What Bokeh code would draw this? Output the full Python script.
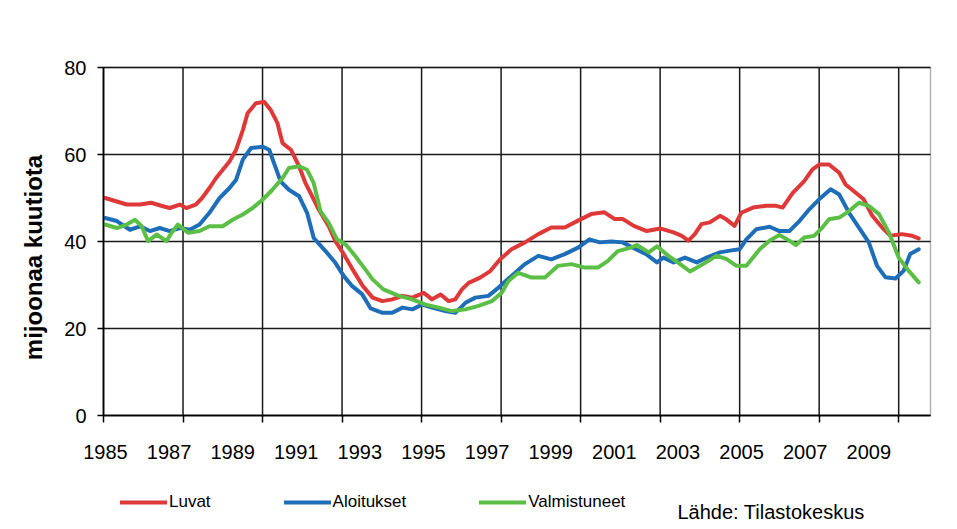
import math
from bokeh.plotting import figure
from bokeh.models import (FixedTicker, Legend, LegendItem, Label, CustomJSTickFormatter,
                          Range1d, BoxAnnotation)
from bokeh.embed import file_html
from bokeh.resources import INLINE

# ---- data (x in fractional years) ----
series_names = ["Luvat", "Aloitukset", "Valmistuneet"]

luvat_x = [1985.05, 1985.42, 1985.73, 1986.15, 1986.5, 1986.87, 1987.08, 1987.4, 1987.6, 1987.9,
           1988.1, 1988.33, 1988.54, 1988.75, 1988.96, 1989.17, 1989.38, 1989.53, 1989.79, 1990.05,
           1990.26, 1990.47, 1990.63, 1990.89, 1991.15, 1991.35, 1991.56, 1991.77, 1992.08, 1992.29,
           1992.52, 1992.83, 1993.15, 1993.46, 1993.77, 1994.08, 1994.4, 1994.71, 1995.07, 1995.33,
           1995.6, 1995.85, 1996.06, 1996.27, 1996.48, 1996.84, 1997.16, 1997.47, 1997.83, 1998.25,
           1998.67, 1999.08, 1999.5, 1999.92, 2000.33, 2000.75, 2001.06, 2001.32, 2001.67, 2002.08,
           2002.5, 2002.92, 2003.18, 2003.39, 2003.59, 2003.8, 2004.06, 2004.38, 2004.58, 2004.84,
           2005.05, 2005.42, 2005.83, 2006.15, 2006.35, 2006.67, 2007.03, 2007.29, 2007.5, 2007.81,
           2008.13, 2008.33, 2008.65, 2008.9, 2009.17, 2009.48, 2009.74, 2010.1, 2010.42, 2010.63]
luvat_y = [50.0, 49.2, 48.5, 48.5, 48.9, 48.1, 47.7, 48.5, 47.7, 48.5,
           50.0, 52.3, 54.6, 56.5, 58.4, 61.1, 65.6, 69.5, 71.8, 72.1,
           70.2, 67.2, 62.6, 61.1, 57.3, 53.4, 50.4, 47.3, 43.5, 40.1,
           37.5, 33.6, 29.8, 27.1, 26.3, 26.7, 27.5, 27.1, 28.2, 26.7,
           27.8, 26.3, 26.7, 29.0, 30.5, 31.7, 33.2, 35.9, 38.2, 39.8,
           41.7, 43.2, 43.2, 44.8, 46.3, 46.7, 45.2, 45.2, 43.6, 42.4,
           43.0, 42.1, 41.3, 40.2, 41.7, 44.0, 44.4, 45.9, 45.1, 43.6,
           46.6, 47.8, 48.2, 48.2, 47.8, 51.2, 53.9, 56.6, 57.7, 57.7,
           55.8, 53.1, 51.2, 49.7, 45.9, 43.2, 41.3, 41.7, 41.3, 40.7]

aloitukset_x = [1985.05, 1985.42, 1985.83, 1986.15, 1986.46, 1986.77, 1987.08, 1987.4, 1987.71, 1988.02,
                1988.33, 1988.65, 1988.96, 1989.17, 1989.38, 1989.64, 1990.0, 1990.21, 1990.36, 1990.57,
                1990.83, 1991.15, 1991.4, 1991.61, 1991.98, 1992.29, 1992.55, 1992.81, 1993.13, 1993.4,
                1993.77, 1994.08, 1994.4, 1994.71, 1995.02, 1995.33, 1995.75, 1996.06, 1996.38, 1996.69,
                1997.1, 1997.42, 1997.83, 1998.25, 1998.67, 1999.08, 1999.5, 1999.92, 2000.28, 2000.6,
                2000.96, 2001.32, 2001.69, 2002.08, 2002.4, 2002.6, 2002.92, 2003.28, 2003.65, 2003.96,
                2004.38, 2004.69, 2005.0, 2005.21, 2005.52, 2005.94, 2006.25, 2006.56, 2006.88, 2007.19,
                2007.5, 2007.86, 2008.13, 2008.44, 2008.75, 2009.06, 2009.32, 2009.58, 2009.9, 2010.16,
                2010.36, 2010.63]
aloitukset_y = [45.4, 44.7, 42.7, 43.5, 42.4, 43.1, 42.4, 43.1, 42.7, 43.9,
                46.6, 50.0, 52.3, 54.2, 58.8, 61.5, 61.8, 61.1, 58.0, 53.8,
                51.9, 50.4, 46.6, 40.8, 37.8, 35.1, 32.1, 29.8, 27.9, 24.6,
                23.6, 23.6, 24.8, 24.4, 25.5, 24.8, 24.0, 23.6, 25.9, 27.1,
                27.5, 29.4, 32.1, 34.8, 36.7, 35.9, 37.1, 38.6, 40.5, 39.8,
                40.0, 39.8, 38.4, 37.0, 35.2, 36.3, 35.2, 36.3, 35.2, 36.3,
                37.5, 37.9, 38.2, 40.5, 42.8, 43.4, 42.4, 42.4, 44.7, 47.4,
                49.7, 52.0, 50.8, 46.6, 43.2, 39.8, 34.4, 31.8, 31.5, 33.3,
                37.1, 38.2]

valmistuneet_x = [1985.05, 1985.42, 1985.73, 1985.99, 1986.2, 1986.4, 1986.67, 1986.98, 1987.14, 1987.34,
                  1987.66, 1988.02, 1988.33, 1988.75, 1989.06, 1989.38, 1989.69, 1990.0, 1990.31, 1990.63,
                  1990.83, 1991.15, 1991.4, 1991.61, 1991.82, 1992.08, 1992.34, 1992.63, 1992.92, 1993.23,
                  1993.46, 1993.8, 1994.29, 1994.71, 1995.13, 1995.54, 1995.96, 1996.38, 1996.79, 1997.21,
                  1997.52, 1997.73, 1998.04, 1998.46, 1998.88, 1999.29, 1999.71, 2000.13, 2000.54, 2000.85,
                  2001.17, 2001.58, 2001.77, 2002.14, 2002.4, 2002.76, 2003.13, 2003.44, 2003.85, 2004.27,
                  2004.58, 2004.9, 2005.21, 2005.63, 2005.94, 2006.25, 2006.56, 2006.77, 2007.03, 2007.34,
                  2007.6, 2007.81, 2008.13, 2008.44, 2008.75, 2009.06, 2009.38, 2009.69, 2010.0, 2010.31,
                  2010.63]
valmistuneet_y = [43.9, 43.1, 43.9, 45.0, 43.5, 40.1, 41.6, 40.1, 42.0, 43.9,
                  42.0, 42.4, 43.5, 43.5, 45.0, 46.2, 47.7, 49.6, 51.9, 54.6,
                  56.9, 57.3, 56.5, 53.4, 47.0, 44.3, 40.5, 39.2, 36.6, 33.6,
                  31.3, 29.0, 27.5, 26.7, 25.5, 24.8, 24.0, 24.4, 25.2, 26.3,
                  28.2, 30.9, 32.8, 31.7, 31.7, 34.4, 34.8, 34.0, 34.0, 35.5,
                  37.8, 38.6, 39.2, 37.5, 38.9, 36.7, 34.8, 33.1, 34.8, 36.7,
                  36.0, 34.4, 34.4, 38.2, 40.2, 41.5, 40.2, 39.2, 40.9, 41.3,
                  43.2, 45.1, 45.5, 47.0, 48.9, 48.2, 46.3, 42.1, 36.3, 33.3,
                  30.6]

label_years = list(range(1985, 2010, 2))           # tick labels 1985 ... 2009
grid_years = [1985 + 2.5 * i for i in range(11)]   # gridlines every 30 months
y_ticks = [0, 20, 40, 60, 80]
y_axis_title = "mijoonaa kuutiota"
source_text = "Lähde: Tilastokeskus"

# ---- layout / style ----
X0, X1, Y0, Y1 = 1985, 2011, 0, 80
W, H = 957, 529
PL, PR, PT, PB = 103, 930, 67, 415          # plot-area edges in canvas pixels
sx = (PR - PL) / (X1 - X0)
sy = (PB - PT) / (Y1 - Y0)
colors = ["#DE3838", "#1E6DB9", "#5CBF45"]
FONT = "Liberation Sans"
GRID = "#1a1a1a"

p = figure(width=W, height=H,
           x_range=Range1d(X0 - PL / sx, X1 + (W - PR) / sx),
           y_range=Range1d(Y0 - (H - PB) / sy, Y1 + PT / sy),
           output_backend="svg", toolbar_location=None,
           min_border_left=0, min_border_right=0, min_border_top=0, min_border_bottom=0)
p.background_fill_color = "white"
p.border_fill_color = "white"
p.outline_line_color = None
p.xgrid.visible = False
p.ygrid.visible = False

# grid lines (from the tick lists) and plot-area border
p.segment(x0=grid_years, y0=[Y0] * len(grid_years), x1=grid_years, y1=[Y1] * len(grid_years),
          line_color=GRID, line_width=1.5)
p.segment(x0=[X0] * len(y_ticks), y0=y_ticks, x1=[X1] * len(y_ticks), y1=y_ticks,
          line_color=GRID, line_width=1.5)
p.add_layout(BoxAnnotation(left=X0, right=X1, bottom=Y0, top=Y1, fill_alpha=0,
                           line_color="black", line_width=1.5))

# x axis (drawn at y=0 inside the canvas)
p.xaxis.fixed_location = Y0
p.xaxis.bounds = (X0, X1)
p.xaxis.ticker = FixedTicker(ticks=[y + 0.06 for y in label_years], minor_ticks=grid_years)
p.xaxis.formatter = CustomJSTickFormatter(code="return Math.floor(tick).toString();")
p.xaxis.major_tick_out = 0
p.xaxis.major_tick_in = 0
p.xaxis.minor_tick_out = 7
p.xaxis.minor_tick_in = 0
p.xaxis.minor_tick_line_color = "black"
p.xaxis.minor_tick_line_width = 1.5
p.xaxis.axis_line_color = "black"
p.xaxis.axis_line_width = 1.5
p.xaxis.major_label_standoff = 22
p.xaxis.major_label_text_font = FONT
p.xaxis.major_label_text_font_size = "20px"
p.xaxis.major_label_text_color = "black"

# y axis (drawn at x=1985)
p.yaxis.fixed_location = X0
p.yaxis.bounds = (Y0, Y1)
p.yaxis.ticker = FixedTicker(ticks=y_ticks)
p.yaxis.minor_tick_line_color = None
p.yaxis.major_tick_out = 6
p.yaxis.major_tick_in = 0
p.yaxis.major_tick_line_color = "black"
p.yaxis.major_tick_line_width = 1.5
p.yaxis.axis_line_color = "black"
p.yaxis.axis_line_width = 1.5
p.yaxis.major_label_standoff = 11
p.yaxis.major_label_text_font = FONT
p.yaxis.major_label_text_font_size = "20px"
p.yaxis.major_label_text_color = "black"

renderers = []
for xs, ys, c in [(luvat_x, luvat_y, colors[0]),
                  (aloitukset_x, aloitukset_y, colors[1]),
                  (valmistuneet_x, valmistuneet_y, colors[2])]:
    r = p.line(xs, ys, line_color=c, line_width=4, line_join="round", line_cap="round")
    renderers.append(r)

legend = Legend(items=[LegendItem(label=n, renderers=[r]) for n, r in zip(series_names, renderers)],
                location=(120, 17), orientation="horizontal",
                glyph_width=47, glyph_height=16, label_height=16, label_standoff=2,
                spacing=73, padding=0, margin=0,
                border_line_color=None, background_fill_alpha=0,
                label_text_font=FONT, label_text_font_size="17px", label_text_color="black")
p.add_layout(legend, "center")

p.add_layout(Label(x=677, y=H - 511, x_units="screen", y_units="screen", text=source_text,
                   text_font=FONT, text_font_size="20px", text_color="black",
                   text_align="left", text_baseline="middle"))

p.add_layout(Label(x=33, y=H - 257, x_units="screen", y_units="screen", text=y_axis_title,
                   angle=math.pi / 2, text_font=FONT, text_font_size="24px",
                   text_font_style="bold", text_color="black",
                   text_align="center", text_baseline="middle"))

open("out.html", "w").write(file_html(p, INLINE))
